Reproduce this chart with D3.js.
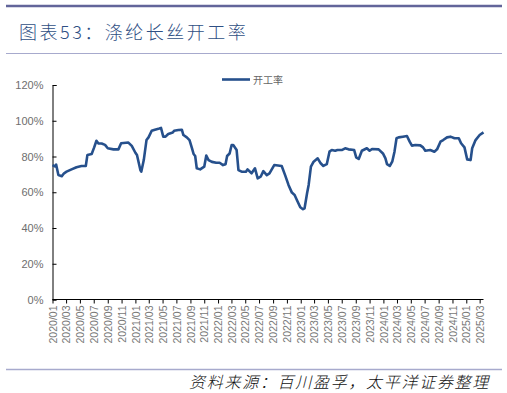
<!DOCTYPE html>
<html>
<head>
<meta charset="utf-8">
<script src="https://cdn.jsdelivr.net/npm/d3@7"></script>
<style>
  html, body { margin: 0; padding: 0; background: #fff; }
  svg { display: block; }
</style>
</head>
<body>
<svg id="chart" width="507" height="393"></svg>
<script>
// weekly operating rate (%)
const dates = [
  "2020-01-01","2020-01-12","2020-01-17","2020-01-27","2020-02-11","2020-02-21","2020-03-03","2020-03-25",
  "2020-04-16","2020-05-08","2020-05-27","2020-06-03","2020-06-22","2020-07-03","2020-07-13","2020-07-22",
  "2020-08-05","2020-08-20","2020-09-01","2020-09-26","2020-10-18","2020-10-30","2020-12-01","2020-12-16",
  "2021-01-01","2021-01-08","2021-01-23","2021-01-27","2021-02-07","2021-02-19","2021-02-28","2021-03-14",
  "2021-03-28","2021-04-17","2021-04-24","2021-05-04","2021-05-14","2021-05-26","2021-06-15","2021-06-21",
  "2021-07-10","2021-07-25","2021-08-01","2021-08-16","2021-08-28","2021-09-08","2021-09-15","2021-09-22",
  "2021-09-29","2021-10-14","2021-11-01","2021-11-10","2021-11-20","2021-12-05","2021-12-24","2022-01-08",
  "2022-01-23","2022-02-03","2022-02-10","2022-02-21","2022-03-02","2022-03-09","2022-03-24","2022-04-01",
  "2022-04-15","2022-05-04","2022-05-11","2022-05-29","2022-06-13","2022-06-25","2022-07-08","2022-07-20",
  "2022-08-04","2022-08-16","2022-09-06","2022-10-09","2022-10-24","2022-11-08","2022-11-23","2022-12-05",
  "2022-12-15","2022-12-30","2023-01-11","2023-01-18","2023-01-29","2023-02-05","2023-02-15","2023-02-27",
  "2023-03-17","2023-03-30","2023-04-11","2023-04-26","2023-05-08","2023-05-18","2023-06-02","2023-06-12",
  "2023-07-01","2023-07-16","2023-07-31","2023-08-25","2023-09-03","2023-09-14","2023-09-28","2023-10-20",
  "2023-11-01","2023-11-12","2023-12-11","2023-12-30","2024-01-10","2024-01-17","2024-01-29","2024-02-09",
  "2024-02-19","2024-02-28","2024-03-08","2024-03-27","2024-04-14","2024-04-26","2024-05-06","2024-05-21",
  "2024-06-12","2024-06-24","2024-07-04","2024-07-26","2024-08-13","2024-08-25","2024-09-09","2024-09-21",
  "2024-10-08","2024-10-23","2024-11-10","2024-11-29","2024-12-09","2024-12-24","2025-01-05","2025-01-20",
  "2025-01-27","2025-02-11","2025-03-01","2025-03-18"
];
const rates = [
  75.2, 74.5, 75.5, 69.6, 69.0, 70.6, 71.5, 72.8,
  74.0, 74.7, 74.7, 80.8, 81.4, 85.1, 88.8, 87.3,
  87.3, 86.5, 84.6, 84.0, 84.0, 87.4, 87.8, 85.9,
  82.1, 80.8, 72.4, 71.5, 78.0, 89.2, 90.7, 94.4,
  95.0, 95.7, 96.0, 91.1, 91.1, 92.6, 93.4, 94.4,
  94.8, 95.0, 92.0, 90.7, 89.2, 84.6, 81.4, 80.3,
  73.4, 72.8, 74.3, 80.5, 78.0, 77.0, 76.5, 76.5,
  75.2, 75.7, 80.3, 81.7, 86.4, 86.4, 83.6, 72.4,
  71.5, 71.5, 72.8, 70.6, 73.4, 67.8, 68.7, 71.8,
  69.6, 70.6, 75.2, 74.7, 69.6, 64.1, 59.8, 58.5,
  55.7, 51.6, 50.5, 51.0, 59.4, 64.1, 74.3, 77.1,
  79.0, 76.2, 74.7, 75.7, 82.7, 83.6, 83.2, 83.6,
  83.6, 84.6, 84.0, 83.6, 79.5, 78.6, 83.2, 84.6,
  83.2, 84.2, 84.0, 81.7, 79.0, 75.7, 74.7, 77.1,
  82.7, 90.2, 90.7, 91.1, 91.5, 88.3, 86.1, 86.4,
  86.2, 85.1, 83.2, 83.6, 82.7, 84.0, 88.3, 89.2,
  90.7, 91.1, 90.2, 90.2, 87.4, 85.1, 78.4, 78.0,
  84.6, 89.2, 92.0, 93.5
];
const yTicks = [0, 20, 40, 60, 80, 100, 120];
const seriesName = "开工率";
const titleText = "图表53：涤纶长丝开工率";
const sourceText = "资料来源：百川盈孚，太平洋证券整理";

const svg = d3.select("#chart");
const parse = d3.timeParse("%Y-%m-%d");
const data = dates.map((d, i) => ({ date: parse(d), value: rates[i] }));

const LINE_COLOR = "#26508c";
const FRAME_COLOR = "#a7aacd";
const LATIN = "'Liberation Sans', Arial, sans-serif";
const CJK = "'Noto Sans CJK SC', sans-serif";

// header rules + title
svg.append("line").attr("x1", 6).attr("x2", 502).attr("y1", 6).attr("y2", 6)
  .attr("stroke", "#62659a").attr("stroke-width", 2.5);
svg.append("line").attr("x1", 6).attr("x2", 502).attr("y1", 53.5).attr("y2", 53.5)
  .attr("stroke", FRAME_COLOR).attr("stroke-width", 1.2);
svg.append("text")
  .attr("x", 19).attr("y", 38.5)
  .attr("font-family", CJK).attr("font-size", 18).attr("letter-spacing", 2.5)
  .attr("font-weight", 300)
  .attr("fill", "#2f4f84")
  .text(titleText);

// scales
const x = d3.scaleTime()
  .domain([parse("2020-01-01"), parse("2025-03-18")])
  .range([52.5, 483.5]);
const y = d3.scaleLinear().domain([0, 120]).range([299.5, 85]);

// y axis (ticks point inward)
const yAxis = svg.append("g")
  .attr("transform", "translate(52.5,0)")
  .call(d3.axisLeft(y).tickValues(yTicks).tickSize(-4).tickPadding(9).tickFormat(d => d + "%"));
yAxis.select(".domain").attr("stroke", "#000");
yAxis.selectAll(".tick line").attr("stroke", "#000");
yAxis.selectAll("text").attr("font-family", LATIN).attr("font-size", 11).attr("fill", "#6e6e6e");

// x axis, label every two months
const xAxis = svg.append("g")
  .attr("transform", "translate(0,299.5)")
  .call(d3.axisBottom(x).ticks(d3.timeMonth.every(2)).tickSize(4).tickFormat(d3.timeFormat("%Y/%m")));
xAxis.select(".domain").attr("stroke", "#000").attr("d", "M52.5,0H483.5");
xAxis.selectAll(".tick line").attr("stroke", "#000");
xAxis.selectAll("text")
  .attr("font-family", LATIN).attr("font-size", 10.5).attr("fill", "#777")
  .attr("text-anchor", "end")
  .attr("transform", "translate(0,6) rotate(-90)")
  .attr("x", 0).attr("y", 0).attr("dy", "0.35em");

// series
const line = d3.line().x(d => x(d.date)).y(d => y(d.value)).curve(d3.curveLinear);
svg.append("path")
  .datum(data)
  .attr("d", line)
  .attr("fill", "none")
  .attr("stroke", LINE_COLOR)
  .attr("stroke-width", 2.6)
  .attr("stroke-linejoin", "round");

// legend
svg.append("line").attr("x1", 222).attr("x2", 250).attr("y1", 79.5).attr("y2", 79.5)
  .attr("stroke", LINE_COLOR).attr("stroke-width", 2.6);
svg.append("text")
  .attr("x", 253).attr("y", 83.5)
  .attr("font-family", CJK).attr("font-size", 10).attr("fill", "#666")
  .text(seriesName);

// footer
svg.append("line").attr("x1", 6).attr("x2", 502).attr("y1", 369.5).attr("y2", 369.5)
  .attr("stroke", FRAME_COLOR).attr("stroke-width", 1.5);
svg.append("text")
  .attr("x", 490).attr("y", 388)
  .attr("text-anchor", "end")
  .attr("font-family", CJK).attr("font-size", 16).attr("font-style", "italic")
  .attr("font-weight", 300).attr("letter-spacing", 1.7)
  .attr("fill", "#111")
  .text(sourceText);
</script>
</body>
</html>
